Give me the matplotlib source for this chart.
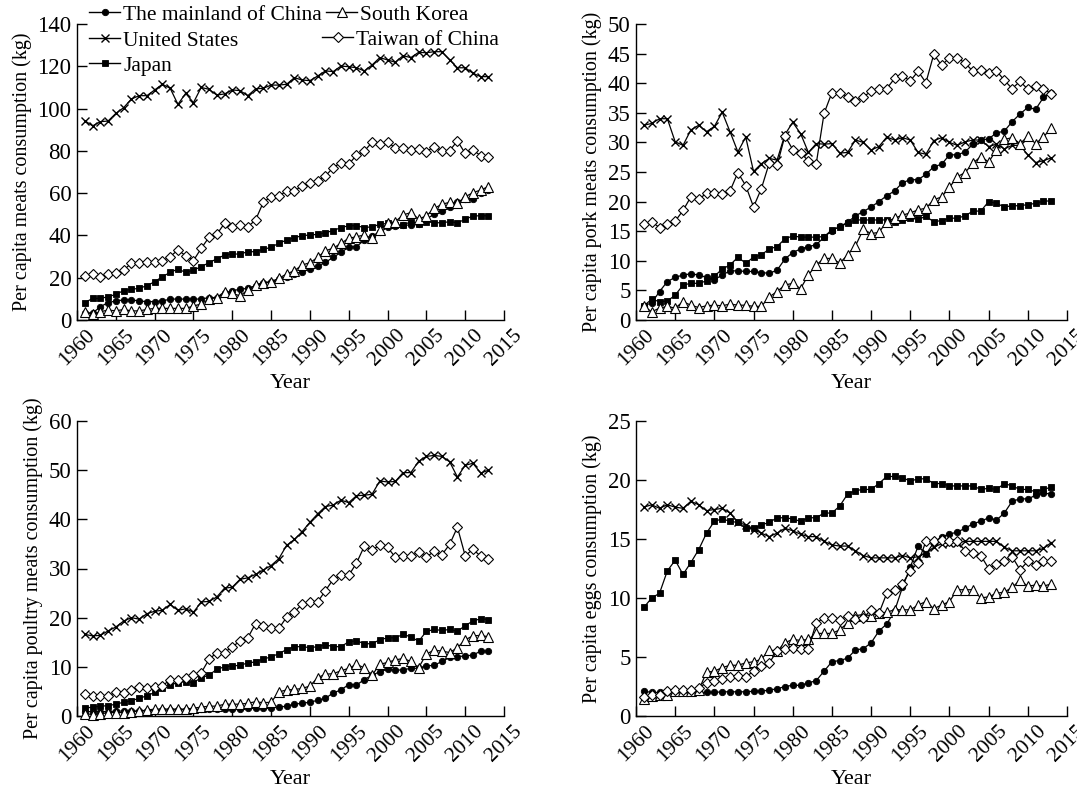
import numpy as np
import matplotlib
matplotlib.use("Agg")
import matplotlib.pyplot as plt
from matplotlib.lines import Line2D

plt.rcParams['font.family'] = ['Liberation Serif', 'DejaVu Serif']
plt.rcParams['mathtext.fontset'] = 'stix'

years = list(range(1961, 2014))

regions = ["The mainland of China", "South Korea", "United States",
           "Taiwan of China", "Japan"]

# ---- Per capita meats consumption (kg)
meat_china = [3.5, 3.2, 6.3, 8.2, 9.0, 9.5, 9.5, 9.0, 8.7, 8.7,
              9.0, 9.9, 9.9, 9.9, 9.9, 9.9, 10.6, 10.6, 12.6, 13.9,
              14.5, 15.0, 16.1, 17.3, 18.1, 19.4, 20.5, 21.8, 22.9, 24.0,
              25.5, 27.3, 29.6, 32.0, 34.4, 34.7, 37.8, 39.7, 41.5, 43.8,
              44.6, 44.9, 44.9, 45.2, 47.8, 50.0, 51.7, 53.6, 56.0, 57.1,
              57.1, 60.2, 61.5]
meat_korea = [3.9, 2.8, 3.9, 4.7, 4.3, 5.0, 4.3, 4.3, 5.0, 5.5,
              5.5, 5.5, 5.5, 5.5, 6.6, 7.6, 9.9, 10.6, 13.4, 12.6,
              11.4, 14.2, 16.6, 17.7, 18.1, 19.7, 21.8, 23.3, 26.0, 27.1,
              29.6, 32.8, 33.9, 36.3, 38.6, 39.4, 40.2, 38.6, 42.6, 45.7,
              46.5, 49.7, 50.8, 47.8, 49.2, 52.8, 54.7, 55.7, 55.2, 58.3,
              60.2, 61.5, 63.1]
meat_us = [94.3, 91.8, 93.8, 94.1, 97.7, 100.4, 104.5, 106.1, 106.1, 108.8,
           111.5, 109.6, 102.0, 107.2, 102.8, 110.0, 109.1, 106.4, 106.9, 108.8,
           108.5, 106.1, 109.3, 109.6, 111.1, 111.1, 111.5, 114.6, 113.5, 113.2,
           115.4, 117.8, 117.5, 120.1, 119.8, 119.3, 117.8, 120.6, 124.1, 123.0,
           121.9, 125.0, 124.1, 126.6, 126.4, 126.9, 126.9, 123.0, 119.3, 119.3,
           116.7, 115.1, 115.1]
meat_taiwan = [20.8, 21.6, 20.5, 21.6, 22.1, 23.6, 26.8, 26.8, 27.6, 27.6,
               27.9, 30.0, 33.1, 30.4, 28.1, 33.9, 39.1, 40.5, 45.7, 43.8,
               44.9, 44.1, 47.3, 55.7, 58.3, 58.6, 61.0, 61.0, 63.5, 65.0,
               65.9, 68.1, 72.1, 74.4, 73.6, 78.0, 79.9, 84.0, 83.2, 84.0,
               81.5, 81.5, 80.4, 80.9, 79.6, 82.0, 80.1, 80.1, 84.7, 78.8,
               80.4, 77.7, 77.3]
meat_japan = [8.2, 10.2, 10.2, 11.0, 12.1, 13.9, 14.5, 15.0, 16.2, 18.1,
              20.5, 22.5, 24.1, 22.5, 23.6, 25.2, 27.1, 28.9, 30.7, 31.2,
              31.2, 32.3, 32.3, 33.4, 34.4, 36.3, 37.8, 38.9, 39.9, 40.2,
              40.5, 41.3, 42.3, 43.7, 44.6, 44.6, 43.7, 44.1, 45.2, 45.7,
              44.9, 44.9, 46.5, 45.4, 46.5, 46.0, 46.0, 46.5, 46.0, 47.6,
              49.2, 49.3, 49.3]

# ---- Per capita pork meats consumption (kg)
pork_china = [2.4, 2.9, 4.8, 6.5, 7.2, 7.6, 7.8, 7.6, 7.2, 6.8,
              7.6, 8.3, 8.3, 8.2, 8.2, 8.0, 7.9, 8.4, 10.3, 11.4,
              12.0, 12.4, 12.7, 14.0, 15.1, 15.8, 16.5, 17.6, 18.3, 19.1,
              20.0, 21.0, 21.8, 23.2, 23.7, 23.7, 24.6, 25.9, 26.3, 27.9,
              27.9, 28.4, 29.7, 30.4, 30.6, 31.6, 31.9, 33.5, 34.8, 35.9,
              35.6, 37.6, 38.4]
pork_korea = [2.3, 1.4, 2.0, 2.3, 2.0, 3.1, 2.5, 2.1, 2.4, 2.5,
              2.4, 2.7, 2.5, 2.5, 2.3, 2.3, 3.9, 4.8, 5.9, 6.2,
              5.3, 7.6, 9.3, 10.4, 10.4, 9.6, 11.0, 12.5, 15.3, 14.6,
              14.8, 16.6, 17.2, 17.7, 18.1, 18.6, 18.9, 20.3, 20.8, 22.4,
              24.2, 24.9, 26.5, 27.6, 26.7, 28.7, 30.5, 30.8, 29.8, 31.0,
              29.8, 30.9, 32.5]
pork_us = [32.9, 33.2, 34.0, 34.0, 30.1, 29.5, 32.1, 32.9, 31.8, 32.7,
           35.1, 31.8, 28.4, 30.9, 25.1, 26.4, 27.3, 27.0, 31.3, 33.4,
           31.5, 28.3, 29.8, 29.7, 29.8, 28.2, 28.3, 30.4, 30.0, 28.7,
           29.3, 30.9, 30.4, 30.8, 30.4, 28.3, 28.0, 30.3, 30.8, 30.0,
           29.5, 30.1, 30.4, 30.4, 29.3, 29.7, 28.9, 29.5, 29.5, 27.9,
           26.6, 26.9, 27.4]
pork_taiwan = [16.2, 16.6, 15.6, 16.2, 16.7, 18.5, 20.8, 20.4, 21.4, 21.4,
               21.3, 21.8, 24.9, 22.7, 19.1, 22.2, 26.5, 26.1, 31.1, 28.8,
               28.2, 26.9, 26.4, 34.9, 38.4, 38.4, 37.7, 37.0, 37.7, 38.6,
               39.1, 39.1, 40.8, 41.2, 40.4, 42.0, 40.1, 44.9, 43.0, 44.3,
               44.3, 43.4, 42.0, 42.2, 41.8, 42.1, 40.5, 39.1, 40.3, 39.0,
               39.5, 39.0, 38.2]
pork_japan = [2.4, 3.5, 3.1, 3.2, 4.2, 5.9, 6.2, 6.2, 6.6, 7.4,
              8.6, 9.3, 10.6, 9.6, 10.6, 11.0, 12.0, 12.4, 13.7, 14.2,
              14.0, 14.0, 14.0, 14.1, 15.2, 15.7, 16.4, 16.9, 16.9, 16.9,
              16.9, 16.9, 16.6, 16.9, 17.2, 17.0, 17.5, 16.6, 16.8, 17.2,
              17.2, 17.6, 18.4, 18.4, 20.0, 19.7, 19.1, 19.3, 19.3, 19.5,
              19.7, 20.1, 20.1]

# ---- Per capita poultry meats consumption (kg)
poultry_china = [0.9, 0.9, 0.9, 0.9, 1.0, 1.0, 1.0, 1.0, 1.1, 1.1,
                 1.2, 1.2, 1.3, 1.3, 1.3, 1.4, 1.4, 1.5, 1.5, 1.5,
                 1.5, 1.6, 1.6, 1.6, 1.7, 1.8, 2.0, 2.4, 2.6, 2.8,
                 3.2, 3.6, 4.7, 5.3, 6.4, 6.3, 7.4, 8.3, 9.0, 9.5,
                 9.3, 9.4, 9.7, 9.7, 10.2, 10.3, 11.1, 11.9, 12.1, 12.2,
                 12.4, 13.2, 13.2]
poultry_korea = [0.5, 0.3, 0.4, 0.7, 0.7, 0.7, 0.9, 1.0, 1.2, 1.4,
                 1.4, 1.4, 1.4, 1.4, 1.6, 1.8, 2.0, 2.0, 2.4, 2.4,
                 2.4, 2.6, 2.9, 2.7, 2.8, 4.9, 5.3, 5.4, 5.6, 6.1,
                 7.8, 8.5, 8.6, 9.2, 9.7, 10.5, 9.8, 8.3, 10.5, 10.9,
                 11.4, 11.7, 11.1, 9.8, 12.6, 13.4, 13.2, 12.9, 13.9, 15.5,
                 16.3, 16.4, 16.1]
poultry_us = [16.6, 16.3, 16.4, 17.3, 18.1, 19.3, 20.0, 19.7, 20.8, 21.3,
              21.5, 22.7, 21.5, 21.8, 21.1, 23.2, 23.3, 24.2, 26.0, 26.2,
              27.8, 28.1, 28.8, 29.7, 30.6, 32.0, 34.7, 35.9, 37.5, 39.4,
              41.1, 42.6, 42.9, 43.9, 43.4, 44.8, 44.9, 45.1, 47.8, 47.6,
              47.7, 49.5, 49.5, 51.8, 52.8, 53.0, 52.8, 51.7, 48.6, 51.0,
              51.4, 49.4, 50.0]
poultry_taiwan = [4.4, 4.1, 4.1, 4.1, 4.8, 4.7, 5.3, 5.8, 5.7, 5.8,
                  6.1, 7.4, 7.3, 7.8, 8.3, 8.8, 11.5, 12.9, 12.9, 14.1,
                  15.2, 15.9, 18.8, 18.4, 17.8, 17.8, 20.1, 21.1, 22.8, 23.2,
                  23.2, 25.5, 27.8, 28.6, 28.6, 31.1, 34.5, 33.8, 34.7, 34.3,
                  32.3, 32.5, 32.5, 33.4, 32.3, 33.5, 32.8, 34.9, 38.4, 32.6,
                  33.9, 32.5, 32.0]
poultry_japan = [1.6, 1.8, 2.0, 2.1, 2.4, 2.8, 3.1, 3.6, 4.1, 4.8,
                 5.6, 6.3, 6.8, 7.0, 6.8, 7.8, 8.3, 9.5, 10.0, 10.2,
                 10.3, 10.8, 11.0, 11.6, 12.0, 12.7, 13.5, 14.1, 14.1, 13.9,
                 14.1, 14.5, 14.1, 14.1, 15.1, 15.3, 14.7, 14.7, 15.5, 15.9,
                 15.9, 16.6, 16.1, 15.2, 17.2, 17.6, 17.4, 17.6, 17.2, 18.4,
                 19.3, 19.8, 19.6]

# ---- Per capita eggs consumption (kg)
eggs_china = [2.1, 2.0, 2.0, 2.0, 2.0, 2.0, 2.0, 2.0, 2.0, 2.0,
              2.05, 2.05, 2.05, 2.05, 2.1, 2.1, 2.2, 2.3, 2.5, 2.6,
              2.6, 2.8, 3.0, 3.8, 4.6, 4.7, 4.9, 5.6, 5.7, 6.2,
              7.2, 7.8, 8.9, 10.9, 12.6, 14.4, 13.7, 14.7, 15.2, 15.4,
              15.6, 15.9, 16.3, 16.5, 16.8, 16.6, 17.2, 18.2, 18.4, 18.4,
              18.7, 18.9, 18.8]
eggs_korea = [1.4, 1.7, 1.8, 1.8, 2.1, 2.1, 2.1, 2.2, 3.7, 3.8,
              4.1, 4.3, 4.3, 4.5, 4.6, 4.8, 5.6, 5.5, 6.2, 6.5,
              6.4, 6.5, 7.0, 7.0, 7.0, 7.3, 7.9, 8.5, 8.6, 8.5,
              8.7, 8.8, 9.0, 9.0, 9.0, 9.4, 9.7, 9.1, 9.4, 9.7,
              10.7, 10.7, 10.7, 10.0, 10.1, 10.4, 10.5, 10.9, 11.5, 11.0,
              11.1, 11.0, 11.2]
eggs_us = [17.7, 17.9, 17.6, 17.9, 17.7, 17.6, 18.2, 17.9, 17.4, 17.5,
           17.6, 17.2, 16.4, 16.2, 15.8, 15.5, 15.2, 15.5, 15.9, 15.7,
           15.4, 15.2, 15.2, 14.8, 14.5, 14.4, 14.4, 14.0, 13.6, 13.4,
           13.4, 13.4, 13.4, 13.6, 13.4, 13.5, 13.8, 14.3, 14.6, 14.7,
           14.7, 14.8, 14.8, 14.8, 14.8, 14.8, 14.3, 14.0, 14.0, 14.0,
           14.0, 14.2, 14.7]
eggs_taiwan = [1.6, 1.8, 1.8, 2.1, 2.2, 2.2, 2.2, 2.4, 2.8, 3.0,
               3.1, 3.3, 3.4, 3.3, 3.8, 4.2, 4.5, 5.5, 5.7, 5.8,
               5.7, 5.7, 7.9, 8.3, 8.3, 8.1, 8.5, 8.2, 8.3, 9.0,
               8.7, 10.4, 10.7, 11.2, 12.3, 13.0, 14.8, 14.8, 14.9, 14.8,
               14.8, 14.0, 13.8, 13.6, 12.5, 12.9, 13.1, 13.5, 12.4, 13.1,
               12.8, 13.1, 13.1]
eggs_japan = [9.2, 10.0, 10.4, 12.3, 13.2, 12.0, 13.0, 14.1, 15.5, 16.5,
              16.7, 16.5, 16.4, 15.9, 15.9, 16.2, 16.4, 16.8, 16.8, 16.7,
              16.5, 16.8, 16.8, 17.2, 17.2, 17.8, 18.8, 19.1, 19.2, 19.2,
              19.7, 20.3, 20.3, 20.2, 19.9, 20.1, 20.1, 19.7, 19.7, 19.5,
              19.5, 19.5, 19.5, 19.2, 19.3, 19.2, 19.7, 19.5, 19.2, 19.2,
              19.0, 19.2, 19.4]

ylabels = ["Per capita meats consumption (kg)",
           "Per capita pork meats consumption (kg)",
           "Per capita poultry meats consumption (kg)",
           "Per capita eggs consumption (kg)"]
ytick_sets = [list(range(0, 141, 20)), list(range(0, 51, 5)),
              list(range(0, 61, 10)), list(range(0, 26, 5))]
xticks = list(range(1960, 2016, 5))

panels = [
    [meat_china, meat_korea, meat_us, meat_taiwan, meat_japan],
    [pork_china, pork_korea, pork_us, pork_taiwan, pork_japan],
    [poultry_china, poultry_korea, poultry_us, poultry_taiwan, poultry_japan],
    [eggs_china, eggs_korea, eggs_us, eggs_taiwan, eggs_japan],
]

# marker style for each region, in the order of `regions`
styles = [
    dict(marker='o', ms=4.6, mfc='black', mec='black', mew=0.6),
    dict(marker='^', ms=6.5, mfc='white', mec='black', mew=0.8),
    dict(marker='x', ms=6.0, mfc='black', mec='black', mew=1.0),
    dict(marker='D', ms=5.0, mfc='white', mec='black', mew=0.8),
    dict(marker='s', ms=4.6, mfc='black', mec='black', mew=0.6),
]
# draw order so open markers sit on top
draw_order = [0, 4, 2, 1, 3]

W, H = 1077, 790
fig = plt.figure(figsize=(W / 100, H / 100), dpi=100)

# axes rectangles in pixels: left, top, right, bottom
boxes = [(77, 24, 504, 320), (636, 24, 1067, 320),
         (77, 421, 504, 716), (636, 421, 1067, 716)]

axes = []
for i, (l, t, r, b) in enumerate(boxes):
    ax = fig.add_axes([l / W, 1 - b / H, (r - l) / W, (b - t) / H])
    axes.append(ax)
    for k in draw_order:
        ax.plot(years, panels[i][k], color='black', lw=0.9, **styles[k],
                clip_on=False, zorder=3)
    ax.set_xlim(1960, 2015)
    yt = ytick_sets[i]
    ax.set_ylim(yt[0], yt[-1])
    ax.set_yticks(yt)
    ax.set_xticks(xticks)
    ax.set_xticklabels([str(x) for x in xticks], rotation=45, ha='center',
                       fontsize=15.5)
    ax.tick_params(axis='y', labelsize=16.5)
    ax.tick_params(direction='in', length=7, width=1.0, color='black', pad=4)
    for s in ['top', 'right']:
        ax.spines[s].set_visible(False)
    for s in ['left', 'bottom']:
        ax.spines[s].set_linewidth(1.0)
    ax.set_ylabel(ylabels[i], fontsize=14.5, labelpad=4)
    ax.set_xlabel("Year", fontsize=16, labelpad=3)

# legend entries placed individually: (region index, handle-left x px, centre y px)
legend_pos = [(0, 89, 15), (1, 326, 15), (2, 89, 41), (3, 322, 40), (4, 89, 66)]
for k, x, y in legend_pos:
    h = Line2D([], [], color='black', lw=1.0, **styles[k])
    fig.legend([h], [regions[k]], loc='center left',
               bbox_to_anchor=(x / W, 1 - y / H),
               bbox_transform=fig.transFigure, frameon=False,
               fontsize=15.5, borderpad=0, borderaxespad=0,
               handlelength=1.45, handletextpad=0.15, numpoints=1)

fig.savefig("out.png", dpi=100)
